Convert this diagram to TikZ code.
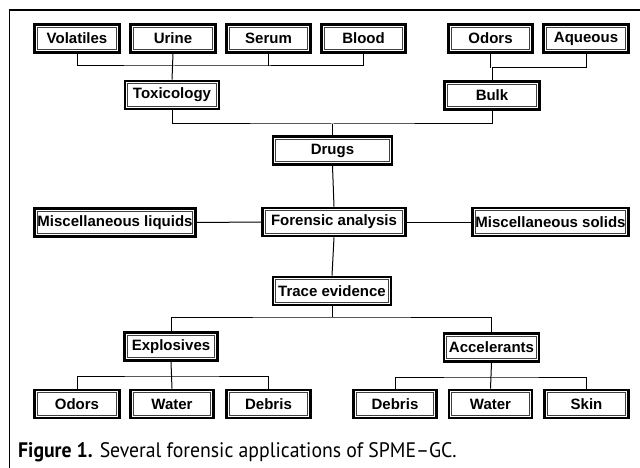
\documentclass[tikz,border=0pt]{standalone}
\usepackage{fontspec}
\newfontfamily\boxfam{Liberation Sans}
\newfontfamily\capfam{PT Sans}[FakeStretch=0.94]
\tikzset{
  box/.style={draw, line width=2.8pt, minimum height=28pt, inner sep=0pt,
    font=\boxfam\fontsize{15}{16}\selectfont\bfseries,
    path picture={\draw[line width=0.8pt, black!75]
      ([shift={(2.7pt,-2.7pt)}]path picture bounding box.north west) rectangle
      ([shift={(-2.7pt,2.7pt)}]path picture bounding box.south east);}},
  conn/.style={line width=1pt},
}
\begin{document}
\begin{tikzpicture}[x=1pt,y=-1pt]
\useasboundingbox (0,0) rectangle (640,468);
% frame
\draw[line width=1.2pt] (9.5,468) -- (9.5,10) -- (640,10);
% top row
\node[box, minimum width=85pt] (vol) at (77,38.5) {Volatiles};
\node[box, minimum width=85pt] (urine) at (173,38.5) {Urine};
\node[box, minimum width=84pt] (serum) at (268.5,38.5) {Serum};
\node[box, minimum width=84pt] (blood) at (363.5,38.5) {Blood};
\node[box, minimum width=84pt] (odors1) at (490.5,38.5) {Odors};
\node[box, minimum width=85pt] (aqueous) at (586,38.5) {Aqueous};
% second row
\node[box, minimum width=94pt] (tox) at (172,95) {Toxicology};
\node[box, minimum width=95pt] (bulk) at (492,95.5) {Bulk};
% centre column
\node[box, minimum width=119pt] (drugs) at (332.5,150.5) {Drugs};
\node[box, minimum width=143pt] (foren) at (334,222) {Forensic analysis};
\node[box, minimum width=161pt] (mliq) at (115,222.5) {Miscellaneous liquids};
\node[box, minimum width=156pt] (msol) at (550.5,222) {Miscellaneous solids};
\node[box, minimum width=118pt] (trace) at (332,291) {Trace evidence};
% lower
\node[box, minimum width=93pt] (expl) at (171,346.5) {Explosives};
\node[box, minimum width=95pt] (accel) at (491.5,347.5) {Accelerants};
\node[box, minimum width=85pt] (odors2) at (77,404) {Odors};
\node[box, minimum width=83pt] (water1) at (172,404) {Water};
\node[box, minimum width=84pt] (debris1) at (268.5,404) {Debris};
\node[box, minimum width=83pt] (debris2) at (395,404) {Debris};
\node[box, minimum width=83pt] (water2) at (490.5,404) {Water};
\node[box, minimum width=84pt] (skin) at (586.5,404) {Skin};
% bus coordinates
\coordinate (b1) at (173,66);
\coordinate (b2) at (492,68);
\coordinate (b3) at (332.5,124);
\coordinate (b4) at (332,317);
\coordinate (b5) at (171,376);
\coordinate (b6) at (491.5,377);
% connectors
\draw[conn] (vol.south) |- (b1) -| (blood.south);
\draw[conn] (urine.south) -- (tox.north);
\draw[conn] (serum.south) -- (serum.south |- b1);
\draw[conn] (aqueous.south) |- (b2) -- (bulk.north);
\draw[conn] (odors1.south) -- (odors1.south |- b2);
\draw[conn] (tox.south) |- (b3) -| (bulk.south);
\draw[conn] (b3) -- (drugs.north);
\draw[conn] (drugs.south) -- (foren.north);
\draw[conn] (mliq.east) -- (foren.west);
\draw[conn] (foren.east) -- (msol.west);
\draw[conn] (foren.south) -- (trace.north);
\draw[conn] (trace.south) -- (b4);
\draw[conn] (expl.north) |- (b4) -| (accel.north);
\draw[conn] (odors2.north) |- (b5) -| (debris1.north);
\draw[conn] (expl.south) -- (water1.north);
\draw[conn] (debris2.north) |- (b6) -| (skin.north);
\draw[conn] (accel.south) -- (water2.north);
% caption
\node[anchor=base west, inner sep=0pt, font=\capfam\fontsize{21}{22}\selectfont] (cap) at (18,457)
  {\textbf{Figure 1.} Several forensic applications of SPME–GC.};
\end{tikzpicture}
\end{document}
